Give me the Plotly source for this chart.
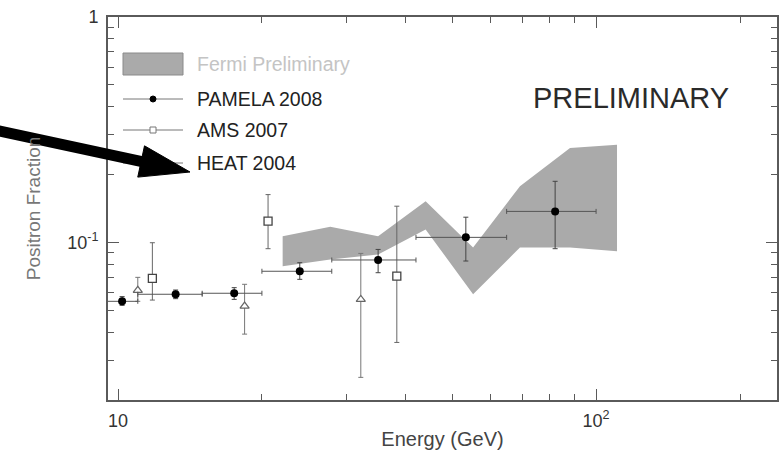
import numpy as np
import plotly.graph_objects as go

# ---------------- data ----------------
pamela_E = [10.2, 13.2, 17.5, 24.0, 35.0, 53.4, 82.1]
pamela_frac = [0.0548, 0.0589, 0.0595, 0.0745, 0.0836, 0.1053, 0.1373]
pamela_hi = [0.0575, 0.0615, 0.0630, 0.0813, 0.0931, 0.1294, 0.1867]
pamela_lo = [0.0526, 0.0563, 0.0559, 0.0686, 0.0734, 0.0827, 0.0938]
pamela_Elo = [9.1, 11.0, 15.0, 20.0, 28.0, 42.0, 65.0]
pamela_Ehi = [11.0, 15.0, 20.0, 28.0, 42.0, 65.0, 100.0]

ams_E = [11.8, 20.6, 38.3]
ams_frac = [0.0693, 0.1242, 0.0709]
ams_hi = [0.0997, 0.163, 0.1448]
ams_lo = [0.0555, 0.0938, 0.0360]

heat_E = [11.0, 18.4, 32.2]
heat_frac = [0.0613, 0.0522, 0.0559]
heat_hi = [0.0700, 0.0652, 0.0894]
heat_lo = [0.0548, 0.0392, 0.0252]

fermi_E = [22.1, 27.8, 35.0, 44.0, 55.3, 69.3, 88.2, 110.6]
fermi_hi = [0.1066, 0.1174, 0.1066, 0.1523, 0.0950, 0.1775, 0.2624, 0.2715]
fermi_lo = [0.0785, 0.0841, 0.0885, 0.1142, 0.0589, 0.0950, 0.0950, 0.0915]

x_tickvals = [10, 100]
x_ticktext = ["10", "10<sup>2</sup>"]
x_minor = [20, 30, 40, 50, 60, 70, 80, 90, 200]
y_tickvals = [0.1, 1]
y_ticktext = ["10<sup>-1</sup>", "1"]
y_minor = [0.02, 0.03, 0.04, 0.05, 0.06, 0.07, 0.08, 0.09,
           0.2, 0.3, 0.4, 0.5, 0.6, 0.7, 0.8, 0.9]

legend_labels = ["Fermi Preliminary", "PAMELA 2008", "AMS 2007", "HEAT 2004"]

# ---------------- layout geometry ----------------
W, H = 783, 450
L, R, T, B = 108, 6, 17, 50
PW, PH = W - L - R, H - T - B
FONT = "Liberation Sans, Arial, sans-serif"


def px(x):
    return (x - L) / PW


def py(y):
    return (H - B - y) / PH


fig = go.Figure()

# Fermi band
fig.add_trace(go.Scatter(
    x=fermi_E + fermi_E[::-1],
    y=fermi_hi + fermi_lo[::-1],
    fill="toself", fillcolor="#aaaaaa", mode="lines",
    line=dict(width=0, color="#aaaaaa"), hoverinfo="skip", showlegend=False))


def errs(vals, hi, lo):
    return ([h - v for h, v in zip(hi, vals)], [v - l for v, l in zip(vals, lo)])


# HEAT
hp, hm = errs(heat_frac, heat_hi, heat_lo)
fig.add_trace(go.Scatter(
    x=heat_E, y=heat_frac, mode="markers",
    marker=dict(symbol="triangle-up", size=8, color="white",
                line=dict(color="#666666", width=1.2)),
    error_y=dict(type="data", array=hp, arrayminus=hm, color="#777777",
                 thickness=1, width=2.5),
    showlegend=False))

# AMS
ap, am = errs(ams_frac, ams_hi, ams_lo)
fig.add_trace(go.Scatter(
    x=ams_E, y=ams_frac, mode="markers",
    marker=dict(symbol="square", size=8, color="white",
                line=dict(color="#444444", width=1.3)),
    error_y=dict(type="data", array=ap, arrayminus=am, color="#666666",
                 thickness=1, width=2.5),
    showlegend=False))

# PAMELA
pp, pm = errs(pamela_frac, pamela_hi, pamela_lo)
xp = [h - e for h, e in zip(pamela_Ehi, pamela_E)]
xm = [e - l for e, l in zip(pamela_E, pamela_Elo)]
fig.add_trace(go.Scatter(
    x=pamela_E, y=pamela_frac, mode="markers",
    marker=dict(symbol="circle", size=8, color="black"),
    error_y=dict(type="data", array=pp, arrayminus=pm, color="#444444",
                 thickness=1, width=2.5),
    error_x=dict(type="data", array=xp, arrayminus=xm, color="#555555",
                 thickness=1, width=2.5),
    showlegend=False))

axis_common = dict(
    showline=True, linecolor="#5a5a5a", linewidth=2, mirror="ticks",
    ticks="inside", ticklen=11, tickwidth=1, tickcolor="#5a5a5a",
    showgrid=False, zeroline=False, automargin=False,
    tickfont=dict(family=FONT, size=18, color="#333333"),
)

fig.update_xaxes(
    type="log", range=[np.log10(9.53), np.log10(239)],
    tickmode="array", tickvals=x_tickvals, ticktext=x_ticktext,
    minor=dict(tickmode="array", tickvals=x_minor, ticks="inside",
               ticklen=6, tickwidth=1, tickcolor="#5a5a5a", showgrid=False),
    title=dict(text="Energy (GeV)", font=dict(family=FONT, size=20, color="#444444"),
               standoff=3),
    ticklabelstandoff=3,
    **axis_common)

fig.update_yaxes(
    type="log", range=[np.log10(0.02), 0],
    tickmode="array", tickvals=y_tickvals, ticktext=y_ticktext,
    minor=dict(tickmode="array", tickvals=y_minor, ticks="inside",
               ticklen=6, tickwidth=1, tickcolor="#5a5a5a", showgrid=False),
    title=dict(text="Positron Fraction", font=dict(family=FONT, size=19, color="#777777"),
               standoff=22),
    ticklabelstandoff=4,
    **axis_common)

shapes = []
annotations = []

# legend
leg_y = [64, 99, 130, 163]
shapes.append(dict(type="rect", xref="paper", yref="paper",
                   x0=px(123), x1=px(183), y0=py(75), y1=py(53),
                   fillcolor="#aaaaaa", line=dict(color="#8a8a8a", width=1)))
for yy in leg_y[1:]:
    shapes.append(dict(type="line", xref="paper", yref="paper",
                       x0=px(123), x1=px(183), y0=py(yy), y1=py(yy),
                       line=dict(color="#777777", width=1)))
shapes.append(dict(type="circle", xref="paper", yref="paper",
                   x0=px(150), x1=px(156), y0=py(102), y1=py(96),
                   fillcolor="black", line=dict(color="black", width=1)))
shapes.append(dict(type="rect", xref="paper", yref="paper",
                   x0=px(150), x1=px(156), y0=py(133), y1=py(127),
                   fillcolor="white", line=dict(color="#777777", width=1)))
shapes.append(dict(type="path", xref="paper", yref="paper",
                   path=f"M {px(149)},{py(166)} L {px(157)},{py(166)} L {px(153)},{py(159)} Z",
                   fillcolor="white", line=dict(color="#777777", width=1)))

leg_colors = ["#c4c4c4", "#222222", "#222222", "#222222"]
for lab, yy, col in zip(legend_labels, leg_y, leg_colors):
    annotations.append(dict(text=lab, xref="paper", yref="paper",
                            x=px(195), y=py(yy), xanchor="left", yanchor="middle",
                            showarrow=False, font=dict(family=FONT, size=19.5, color=col)))

annotations.append(dict(text="PRELIMINARY", xref="paper", yref="paper",
                        x=px(631), y=py(98), xanchor="center", yanchor="middle",
                        showarrow=False, font=dict(family=FONT, size=29, color="#2a2a2a")))

# big arrow
tip = (190, 172)
start = (-5, 130)
d = np.array(tip, float) - np.array(start, float)
d /= np.linalg.norm(d)
n = np.array([-d[1], d[0]])
base = np.array(tip) - 50 * d
c1 = base + 16 * n
c2 = base - 16 * n
shapes.append(dict(type="line", xref="paper", yref="paper",
                   x0=px(start[0]), y0=py(start[1]), x1=px(base[0] + 2 * d[0]), y1=py(base[1] + 2 * d[1]),
                   line=dict(color="black", width=11)))
shapes.append(dict(type="path", xref="paper", yref="paper",
                   path=f"M {px(tip[0])},{py(tip[1])} L {px(c1[0])},{py(c1[1])} L {px(c2[0])},{py(c2[1])} Z",
                   fillcolor="black", line=dict(color="black", width=1)))

fig.update_layout(
    width=W, height=H, autosize=False,
    margin=dict(l=L, r=R, t=T, b=B, pad=0),
    paper_bgcolor="white", plot_bgcolor="white",
    showlegend=False,
    shapes=shapes, annotations=annotations,
)

fig.write_html("out.html")
